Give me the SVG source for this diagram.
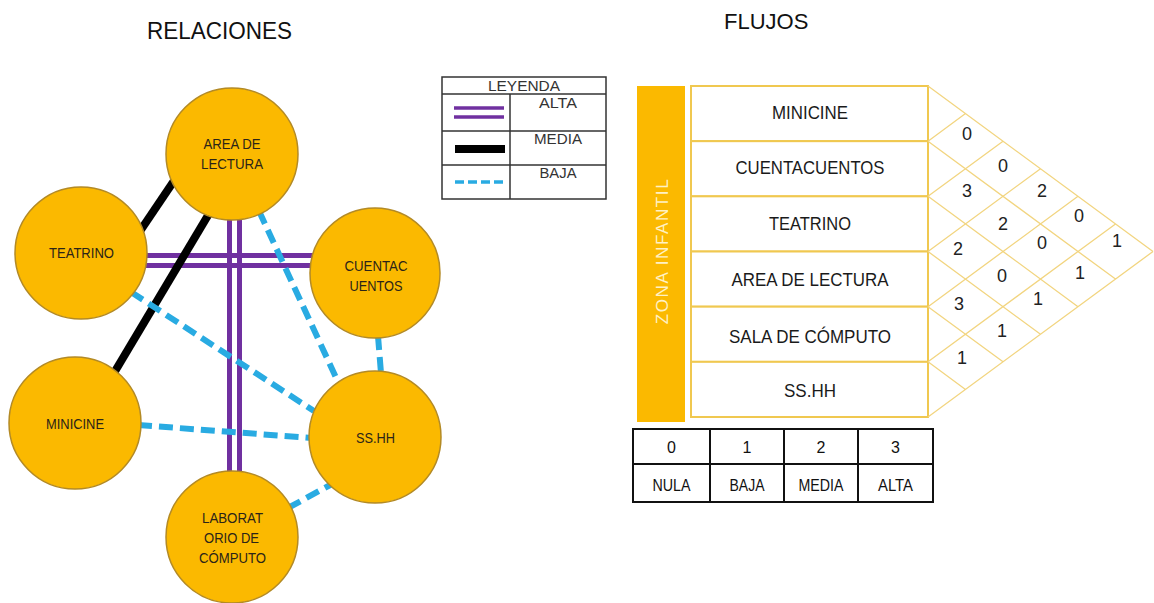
<svg xmlns="http://www.w3.org/2000/svg" width="1154" height="603" viewBox="0 0 1154 603">
<style>
text{font-family:"Liberation Sans",Arial,sans-serif;}
.node circle{fill:#FBB900;stroke:#b38a25;stroke-width:1.5;}
.nt{font-size:15px;fill:#2b2418;text-anchor:middle;}
.alta{stroke:#7030A0;stroke-width:5;fill:none;}
.media{stroke:#000;stroke-width:8;fill:none;}
.baja{stroke:#29ABE2;stroke-width:6;fill:none;stroke-dasharray:14 7;}
.title{fill:#111;}
.cell{fill:#fff;stroke:#F0C850;stroke-width:2;}
.rt{font-size:19px;fill:#1a1a1a;text-anchor:middle;}
.grid{stroke:#F2D580;stroke-width:1.3;fill:none;}
.num{font-size:18px;fill:#222;text-anchor:middle;}
.leg{fill:#fff;stroke:#333;stroke-width:1.5;}
.lt{font-size:15px;fill:#333;text-anchor:middle;}
.bt{font-size:16px;fill:#111;text-anchor:middle;}
.tb{fill:none;stroke:#111;stroke-width:2;}
</style>
<rect width="1154" height="603" fill="#fff"/>

<text class="title" x="147" y="39" font-size="24" textLength="145" lengthAdjust="spacingAndGlyphs">RELACIONES</text>
<text class="title" x="724" y="29" font-size="22">FLUJOS</text>

<g id="connectors">
  <line class="alta" x1="100" y1="255.5" x2="360" y2="255.5"/>
  <line class="alta" x1="100" y1="265.5" x2="360" y2="265.5"/>
  <line class="media" x1="186" y1="163" x2="132" y2="243"/>
  <line class="media" x1="213" y1="207" x2="111" y2="378"/>
  <line class="alta" x1="229.5" y1="150" x2="229.5" y2="540"/>
  <line class="alta" x1="239.5" y1="150" x2="239.5" y2="540"/>
  <line class="baja" x1="259" y1="211" x2="339" y2="384"/>
  <line class="baja" x1="131" y1="292" x2="314" y2="411"/>
  <line class="baja" x1="378" y1="336" x2="381" y2="373"/>
  <line class="baja" x1="138" y1="425" x2="312" y2="438"/>
  <line class="baja" x1="288" y1="508" x2="332" y2="484"/>
</g>

<g id="n-area" class="node"><circle cx="232" cy="154" r="66"/>
  <text class="nt" x="232" y="149" textLength="57" lengthAdjust="spacingAndGlyphs">AREA DE</text>
  <text class="nt" x="232" y="169" textLength="62" lengthAdjust="spacingAndGlyphs">LECTURA</text></g>
<g id="n-teatrino" class="node"><circle cx="81" cy="253" r="66"/>
  <text class="nt" x="81.5" y="258" textLength="65" lengthAdjust="spacingAndGlyphs">TEATRINO</text></g>
<g id="n-cuentacuentos" class="node"><circle cx="375" cy="273" r="65"/>
  <text class="nt" x="376" y="271" textLength="63" lengthAdjust="spacingAndGlyphs">CUENTAC</text>
  <text class="nt" x="376" y="291" textLength="53" lengthAdjust="spacingAndGlyphs">UENTOS</text></g>
<g id="n-minicine" class="node"><circle cx="75" cy="423" r="66"/>
  <text class="nt" x="75" y="429" textLength="58" lengthAdjust="spacingAndGlyphs">MINICINE</text></g>
<g id="n-sshh" class="node"><circle cx="375" cy="437" r="66"/>
  <text class="nt" x="375.5" y="443" textLength="39" lengthAdjust="spacingAndGlyphs">SS.HH</text></g>
<g id="n-laboratorio" class="node"><circle cx="232" cy="537" r="66"/>
  <text class="nt" x="232.5" y="523" textLength="61" lengthAdjust="spacingAndGlyphs">LABORAT</text>
  <text class="nt" x="231.5" y="543" textLength="55" lengthAdjust="spacingAndGlyphs">ORIO DE</text>
  <text class="nt" x="232.5" y="563" textLength="67" lengthAdjust="spacingAndGlyphs">CÓMPUTO</text></g>

<g id="legend">
  <rect class="leg" x="442" y="77" width="164" height="122"/>
  <line stroke="#333" stroke-width="1.5" x1="442" y1="94" x2="606" y2="94"/>
  <line stroke="#333" stroke-width="1.5" x1="442" y1="131" x2="606" y2="131"/>
  <line stroke="#333" stroke-width="1.5" x1="442" y1="165" x2="606" y2="165"/>
  <line stroke="#333" stroke-width="1.5" x1="510" y1="94" x2="510" y2="199"/>
  <text class="lt" x="524" y="91" textLength="72" lengthAdjust="spacingAndGlyphs">LEYENDA</text>
  <line class="alta" style="stroke-width:3.5" x1="454" y1="108" x2="504" y2="108"/>
  <line class="alta" style="stroke-width:3.5" x1="454" y1="117" x2="504" y2="117"/>
  <rect x="455" y="145" width="50" height="8" fill="#000"/>
  <line class="baja" style="stroke-width:3.5;stroke-dasharray:9 4" x1="455" y1="182" x2="505" y2="182"/>
  <text class="lt" x="558" y="108" textLength="38" lengthAdjust="spacingAndGlyphs">ALTA</text>
  <text class="lt" x="558" y="144" textLength="48" lengthAdjust="spacingAndGlyphs">MEDIA</text>
  <text class="lt" x="558" y="178" textLength="37" lengthAdjust="spacingAndGlyphs">BAJA</text>
</g>

<g id="zona">
  <rect x="637" y="86" width="48" height="336" fill="#FBB900"/>
  <text transform="translate(668,251) rotate(-90)" font-size="17" fill="#FFF1C4" text-anchor="middle" letter-spacing="1.6">ZONA INFANTIL</text>
</g>

<g id="flow-table">
  <g id="r-minicine"><rect class="cell" x="691" y="86" width="237" height="55.17"/><text class="rt" x="810" y="119" textLength="76" lengthAdjust="spacingAndGlyphs">MINICINE</text></g>
  <g id="r-cuentacuentos"><rect class="cell" x="691" y="141.17" width="237" height="55.17"/><text class="rt" x="810" y="174" textLength="149" lengthAdjust="spacingAndGlyphs">CUENTACUENTOS</text></g>
  <g id="r-teatrino"><rect class="cell" x="691" y="196.33" width="237" height="55.17"/><text class="rt" x="810" y="230" textLength="82" lengthAdjust="spacingAndGlyphs">TEATRINO</text></g>
  <g id="r-area"><rect class="cell" x="691" y="251.5" width="237" height="55.17"/><text class="rt" x="810" y="286" textLength="157" lengthAdjust="spacingAndGlyphs">AREA DE LECTURA</text></g>
  <g id="r-sala"><rect class="cell" x="691" y="306.67" width="237" height="55.17"/><text class="rt" x="810" y="343" textLength="162" lengthAdjust="spacingAndGlyphs">SALA DE CÓMPUTO</text></g>
  <g id="r-sshh"><rect class="cell" x="691" y="361.83" width="237" height="55.17"/><text class="rt" x="810" y="397" textLength="52" lengthAdjust="spacingAndGlyphs">SS.HH</text></g>
</g>

<g id="matrix">
  <path class="grid" d="M928,86 L1153,251.5 M928,141.17 L1115.5,279.08 M928,196.33 L1078,306.67 M928,251.5 L1040.5,334.25 M928,306.67 L1003,361.83 M928,361.83 L965.5,389.42
  M928,141.17 L965.5,113.58 M928,196.33 L1003,141.17 M928,251.5 L1040.5,168.75 M928,306.67 L1078,196.33 M928,361.83 L1115.5,223.92 M928,417 L1153,251.5"/>
  <text class="num" x="967" y="139.5">0</text>
  <text class="num" x="967" y="196.5">3</text>
  <text class="num" x="958" y="254.5">2</text>
  <text class="num" x="959" y="309.5">3</text>
  <text class="num" x="962" y="363.5">1</text>
  <text class="num" x="1003" y="171.5">0</text>
  <text class="num" x="1003" y="229.5">2</text>
  <text class="num" x="1002" y="281.5">0</text>
  <text class="num" x="1002" y="336.5">1</text>
  <text class="num" x="1042" y="196.5">2</text>
  <text class="num" x="1042" y="248.5">0</text>
  <text class="num" x="1038" y="304.5">1</text>
  <text class="num" x="1079" y="221.5">0</text>
  <text class="num" x="1080" y="278.5">1</text>
  <text class="num" x="1117" y="246.5">1</text>
</g>

<g id="scale-table">
  <rect class="tb" x="633" y="429" width="300" height="73"/>
  <line class="tb" x1="633" y1="464" x2="933" y2="464"/>
  <line class="tb" x1="710" y1="429" x2="710" y2="502"/>
  <line class="tb" x1="784" y1="429" x2="784" y2="502"/>
  <line class="tb" x1="858" y1="429" x2="858" y2="502"/>
  <text class="bt" x="671.5" y="453">0</text>
  <text class="bt" x="747" y="453">1</text>
  <text class="bt" x="821" y="453">2</text>
  <text class="bt" x="895.5" y="453">3</text>
  <text class="bt" x="671.5" y="491" textLength="38" lengthAdjust="spacingAndGlyphs">NULA</text>
  <text class="bt" x="747" y="491" textLength="35" lengthAdjust="spacingAndGlyphs">BAJA</text>
  <text class="bt" x="821" y="491" textLength="45" lengthAdjust="spacingAndGlyphs">MEDIA</text>
  <text class="bt" x="895.5" y="491" textLength="35" lengthAdjust="spacingAndGlyphs">ALTA</text>
</g>
</svg>
